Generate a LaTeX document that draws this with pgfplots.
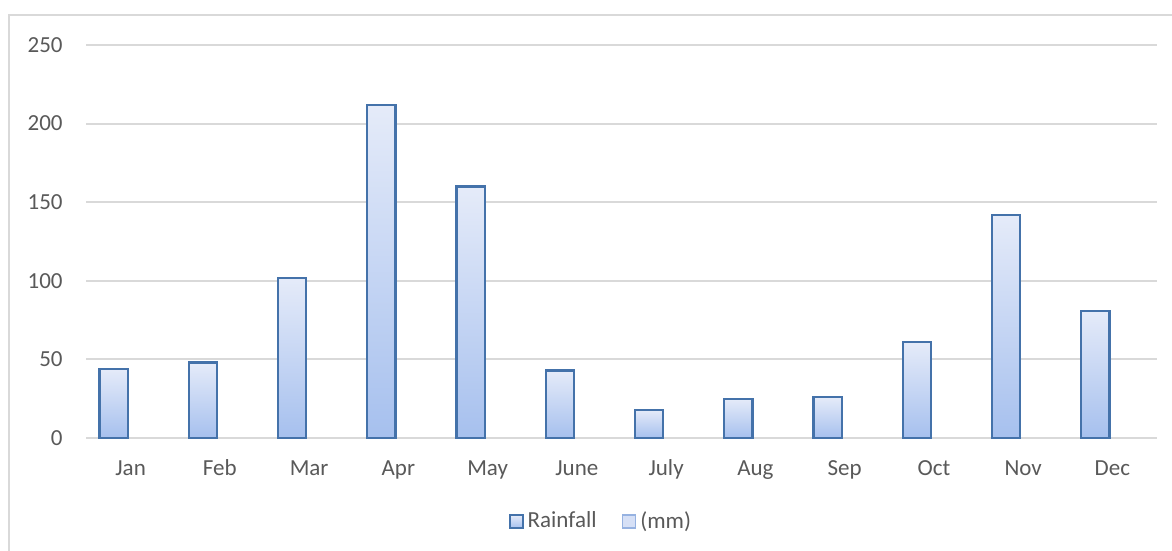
\documentclass[border=0pt]{standalone}
\usepackage{pgfplots}
\pgfplotsset{compat=1.18}
\usepackage{fontspec}
\setmainfont{Carlito}
\definecolor{txt}{RGB}{89,89,89}
\definecolor{gridc}{RGB}{217,217,217}
\definecolor{barline}{RGB}{68,114,170}
\definecolor{bartop}{RGB}{229,235,249}
\definecolor{barbot}{RGB}{166,192,238}
\definecolor{lightline}{RGB}{150,178,225}
\definecolor{lightfill}{RGB}{214,224,246}
\pgfplotsset{rainbar/.style={ybar, bar width=14.2pt, bar shift=-8.5pt,
  draw=barline, line width=1.1pt, top color=bartop, bottom color=barbot}}
\begin{document}
\begin{tikzpicture}[x=1pt,y=1pt]
\path[use as bounding box] (0,0) rectangle (586,275.5);
\draw[gridc, line width=1pt] (4.5,-5) -- (4.5,268) -- (600,268);
\begin{axis}[
  at={(43pt,56.5pt)}, anchor=south west,
  scale only axis,
  width=535.5pt, height=196.5pt,
  xmin=-0.5, xmax=11.5,
  ymin=0, ymax=250,
  ytick={0,50,...,250},
  xtick={0,...,11},
  xticklabels={Jan,Feb,Mar,Apr,May,June,July,Aug,Sep,Oct,Nov,Dec},
  axis line style={draw=none},
  major tick length=0pt,
  xmajorgrids=false,
  ymajorgrids=true,
  major grid style={draw=gridc, line width=1pt},
  tick label style={font=\fontsize{11.5}{13}\selectfont, text=txt},
  yticklabel style={anchor=east, inner sep=0pt, xshift=-11.5pt},
  xticklabel style={anchor=base, inner sep=0pt, yshift=-18.9pt},
  /pgf/number format/assume math mode=true,
  clip=false,
  legend columns=2,
  legend style={draw=none, at={(0.4818,-0.2125)}, anchor=center,
    font=\fontsize{11.5}{13}\selectfont, text=txt,
    column sep=0pt, inner sep=0pt,
    /tikz/every even column/.append style={column sep=10.5pt}},
  legend cell align=left,
]
\addplot[rainbar,
  legend image code/.code={\draw[draw=barline, line width=0.9pt, top color=bartop, bottom color=barbot] (0pt,-3.25pt) rectangle (6.5pt,3.25pt);}]
  coordinates {(0,44)};
\addlegendentry{Rainfall}
\addlegendimage{legend image code/.code={\draw[draw=lightline, line width=0.9pt, fill=lightfill] (0pt,-3.25pt) rectangle (6.5pt,3.25pt);}}
\addlegendentry{(mm)}
\addplot[rainbar, forget plot] coordinates {(1,48)};
\addplot[rainbar, forget plot] coordinates {(2,102)};
\addplot[rainbar, forget plot] coordinates {(3,212)};
\addplot[rainbar, forget plot] coordinates {(4,160)};
\addplot[rainbar, forget plot] coordinates {(5,43)};
\addplot[rainbar, forget plot] coordinates {(6,18)};
\addplot[rainbar, forget plot] coordinates {(7,25)};
\addplot[rainbar, forget plot] coordinates {(8,26)};
\addplot[rainbar, forget plot] coordinates {(9,61)};
\addplot[rainbar, forget plot] coordinates {(10,142)};
\addplot[rainbar, forget plot] coordinates {(11,81)};
\end{axis}
\end{tikzpicture}
\end{document}
